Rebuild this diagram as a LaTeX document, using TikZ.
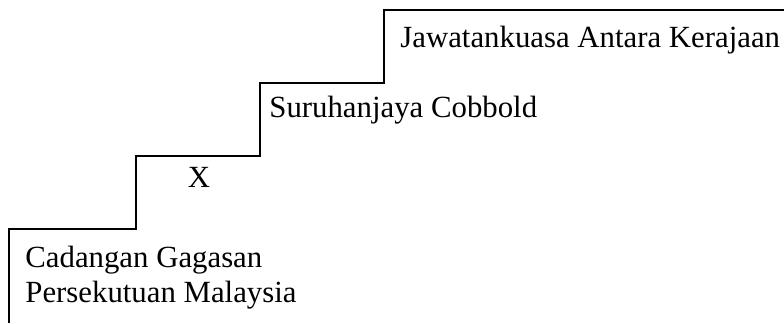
\documentclass[tikz,border=0pt]{standalone}
\usepackage{fontspec}
\setmainfont{Liberation Serif}
\usetikzlibrary{positioning}

\begin{document}
\begin{tikzpicture}[x=0.5pt, y=-0.5pt]
\tikzset{
   stair/.style = {draw, line width = 1pt, line join = miter},
   steplabel/.style = {anchor = base west, inner sep = 0pt, font = \fontsize{15.4}{17.5}\selectfont}
}
  \useasboundingbox (0,0) rectangle (784,323);

  % the staircase
  \draw [stair] (9,323) -- (9,229) -- (136,229) -- (136,156) -- (260,156)
        -- (260,83) -- (384,83) -- (384,10) -- (784,10);

  \node [steplabel] (cadangan) at (25,267) {Cadangan Gagasan};
  \node [steplabel] (persekutuan) at (25,302) {Persekutuan Malaysia};
  \node [steplabel, anchor = base] (x) at (199,187) {X};
  \node [steplabel] (cobbold) at (269,117) {Suruhanjaya Cobbold};
  \node [steplabel] (jawatankuasa) at (400,47) {Jawatankuasa Antara Kerajaan};

\end{tikzpicture}
\end{document}
